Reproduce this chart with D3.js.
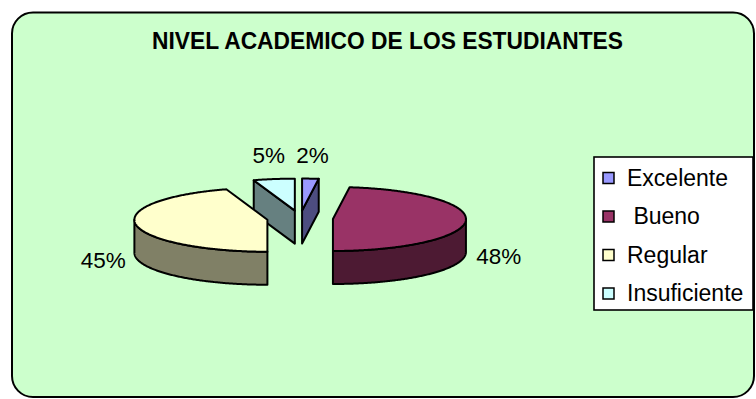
<!DOCTYPE html>
<html><head><meta charset="utf-8">
<script src="https://cdn.jsdelivr.net/npm/d3@7"></script>
<style>body{margin:0;background:#fff} text{font-family:"Liberation Sans",Arial,sans-serif;fill:#000}</style>
</head><body><svg id="c" width="756" height="399"></svg>
<script>
const title = "NIVEL ACADEMICO DE LOS ESTUDIANTES";
const categories = ["Excelente", " Bueno", "Regular", "Insuficiente"];
const values = [2, 48, 45, 5];
const labels = ["2%", "48%", "45%", "5%"];
const topColors = ["#9999FF", "#993366", "#FFFFCC", "#CCFFFF"];
const sideColors = ["#4D4D80", "#4D1A33", "#808066", "#668080"];

const svg = d3.select("#c");
svg.append("rect").attr("x",12).attr("y",12.5).attr("width",742).attr("height",384.5).attr("rx",21)
  .attr("fill","#CCFFCC").attr("stroke","#000").attr("stroke-width",2);
svg.append("text").attr("x",387.5).attr("y",48.5).attr("text-anchor","middle").attr("font-weight","bold")
  .attr("font-size",23).attr("textLength",471).attr("lengthAdjust","spacingAndGlyphs").text(title);

const cx=300, cy=218.5, rx=133, ry=32, depth=33, explode=33;
const arcs = d3.pie().sort(null).value(d=>d)(values).map((d,i)=>{
  const mid=(d.startAngle+d.endAngle)/2;
  return {...d, i, mid, c:[cx+explode*Math.sin(mid), cy-explode*(ry/rx)*Math.cos(mid)]};
});
const P=(c,a,k=1,dy=0)=>[c[0]+rx*k*Math.sin(a), c[1]-ry*k*Math.cos(a)+dy];
function arcPts(c,a0,a1,dy){
  const n=Math.max(2,Math.ceil(Math.abs(a1-a0)/0.01));
  return d3.range(n+1).map(j=>P(c,a0+(a1-a0)*j/n,1,dy));
}
const line=d3.line();
const g=svg.append("g").attr("stroke","#000").attr("stroke-width",2).attr("stroke-linejoin","round");
arcs.slice().sort((a,b)=>a.c[1]-b.c[1]).forEach(d=>{
  const c=d.c, a0=d.startAngle, a1=d.endAngle, side=sideColors[d.i];
  const face=a=>[c,P(c,a),P(c,a,1,depth),[c[0],c[1]+depth]];
  if(Math.sin(a0)<-1e-6) g.append("path").attr("d",line(face(a0))+"Z").attr("fill",side);
  if(Math.sin(a1)>1e-6) g.append("path").attr("d",line(face(a1))+"Z").attr("fill",side);
  const lo=Math.max(a0,Math.PI/2), hi=Math.min(a1,3*Math.PI/2);
  if(hi>lo) g.append("path").attr("d",line(arcPts(c,lo,hi,0).concat(arcPts(c,hi,lo,depth)))+"Z").attr("fill",side);
  g.append("path").attr("d",line([c].concat(arcPts(c,a0,a1,0)))+"Z").attr("fill",topColors[d.i]);
});
arcs.forEach(d=>{
  const front=-Math.cos(d.mid)>0;
  const p=P(d.c,d.mid,1.25);
  svg.append("text").attr("x",p[0]).attr("y",front?p[1]+depth+9:p[1]-8)
    .attr("text-anchor","middle").attr("font-size",22.5).text(labels[d.i]);
});
const lg=svg.append("g");
lg.append("rect").attr("x",594).attr("y",157).attr("width",159).attr("height",153)
  .attr("fill","#fff").attr("stroke","#000").attr("stroke-width",1.6);
categories.forEach((cat,i)=>{
  const y=178+i*38.5;
  lg.append("rect").attr("x",603).attr("y",y-5.5).attr("width",11).attr("height",11)
    .attr("fill",topColors[i]).attr("stroke","#000").attr("stroke-width",1.5);
  lg.append("text").attr("x",627).attr("y",y+7.5).attr("font-size",23).style("white-space","pre").text(cat);
});
</script></body></html>
